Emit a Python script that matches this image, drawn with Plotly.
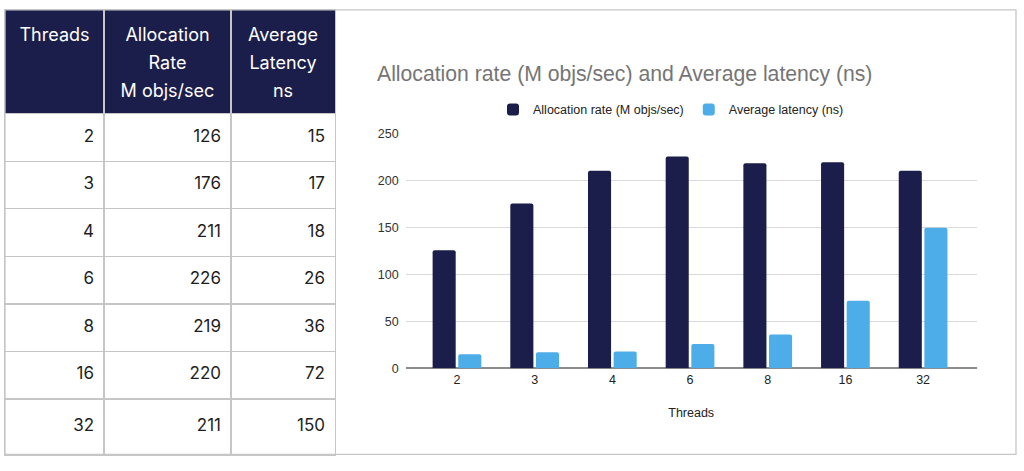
import plotly.graph_objects as go

W, H = 1024, 471

# ---------------- data ----------------
threads = ["2", "3", "4", "6", "8", "16", "32"]
alloc_rate = [126, 176, 211, 226, 219, 220, 211]
avg_latency = [15, 17, 18, 26, 36, 72, 150]

header_labels = ["Threads", "Allocation<br>Rate<br>M objs/sec", "Average<br>Latency<br>ns"]
series_names = ["Allocation rate (M objs/sec)", "Average latency (ns)"]
chart_title = "Allocation rate (M objs/sec) and Average latency (ns)"
x_title = "Threads"
y_ticks = [0, 50, 100, 150, 200, 250]

# ---------------- styles / layout geometry ----------------
NAVY = "#1b1e4b"
LIGHT = "#4cade9"
GRID = "#dadada"
BORDER = "#c6c6c6"
TABLE_FONT = "Inter, Open Sans, sans-serif"
CHART_FONT = "Liberation Sans, Arial, sans-serif"

col_widths = [99, 127, 104]          # table column widths (px)
header_height = 107
body_heights = [49, 49, 49, 49, 49, 49, 57]
header_line_first = 27
header_line_pitch = 29
cell_pad = 10


def px_x(v):
    return v / W


def px_y(v):
    return (H - v) / H


# derived table geometry
col_edges = [0]
for w in col_widths:
    col_edges.append(col_edges[-1] + w)
row_edges = [header_height]
for h in body_heights:
    row_edges.append(row_edges[-1] + h)
row_centers = [(row_edges[i] + row_edges[i + 1]) / 2 for i in range(len(body_heights))]
table_w = col_edges[-1]
table_h = row_edges[-1]

fig = go.Figure()

# ---------------- table drawn on its own axes ----------------
columns = [threads, [str(v) for v in alloc_rate], [str(v) for v in avg_latency]]
for ci, col in enumerate(columns):
    fig.add_trace(go.Scatter(
        x=[col_edges[ci + 1] - cell_pad] * len(col), y=row_centers,
        mode="text", text=col, textposition="middle left",
        textfont=dict(family=TABLE_FONT, size=17, color="#1e1e1e"),
        xaxis="x2", yaxis="y2", showlegend=False, hoverinfo="skip",
    ))

for ci, label in enumerate(header_labels):
    lines = label.split("<br>")
    cx = (col_edges[ci] + col_edges[ci + 1]) / 2
    fig.add_trace(go.Scatter(
        x=[cx] * len(lines),
        y=[header_line_first + i * header_line_pitch for i in range(len(lines))],
        mode="text", text=lines, textposition="middle center",
        textfont=dict(family=TABLE_FONT, size=18, color="white"),
        xaxis="x2", yaxis="y2", showlegend=False, hoverinfo="skip",
    ))

# ---------------- bar chart ----------------
fig.add_trace(go.Bar(
    x=threads, y=alloc_rate, name=series_names[0],
    marker=dict(color=NAVY, cornerradius=2, line=dict(width=0)),
))
fig.add_trace(go.Bar(
    x=threads, y=avg_latency, name=series_names[1],
    marker=dict(color=LIGHT, cornerradius=2, line=dict(width=0)),
))

fig.update_layout(
    width=W, height=H,
    margin=dict(l=0, r=0, t=0, b=0),
    paper_bgcolor="white",
    plot_bgcolor="white",
    barmode="group",
    bargap=0.34,
    bargroupgap=0.1,
    font=dict(family=CHART_FONT, size=12.5, color="#333"),
    title=dict(
        text=chart_title,
        x=px_x(377), xanchor="left",
        y=px_y(74), yanchor="middle",
        font=dict(family=CHART_FONT, size=21.2, color="#757575"),
    ),
    legend=dict(
        orientation="h",
        x=px_x(493), xanchor="left",
        y=px_y(106), yanchor="middle",
        font=dict(family=CHART_FONT, size=12.5, color="#222"),
        bgcolor="rgba(0,0,0,0)",
        traceorder="normal",
    ),
    xaxis=dict(
        domain=[px_x(405.7), px_x(976.7)],
        anchor="y",
        type="category",
        range=[-0.66, 6.69],
        showgrid=False,
        showline=False,
        ticks="",
        ticklabelstandoff=2,
        tickfont=dict(size=12.5, color="#222"),
        title=dict(text=x_title, font=dict(size=12.5, color="#222"), standoff=22),
    ),
    yaxis=dict(
        domain=[px_y(372.3), px_y(131)],
        anchor="x",
        range=[0, 250],
        tickvals=y_ticks,
        showgrid=True,
        gridcolor=GRID,
        gridwidth=1,
        zeroline=True,
        zerolinecolor="#8c8c8c",
        zerolinewidth=1.5,
        ticks="",
        ticklabelstandoff=6,
        tickfont=dict(size=12.5, color="#333"),
    ),
    xaxis2=dict(
        domain=[px_x(5), px_x(5 + table_w)],
        anchor="y2",
        range=[0, table_w],
        tickvals=col_edges[1:-1],
        showticklabels=False,
        showgrid=True, gridcolor=BORDER, gridwidth=1.3,
        zeroline=False,
        showline=True, mirror=True, linecolor=BORDER, linewidth=1.3,
        fixedrange=True,
    ),
    yaxis2=dict(
        domain=[px_y(3 + table_h), px_y(3)],
        anchor="x2",
        range=[table_h, 0],
        tickvals=row_edges[:-1],
        showticklabels=False,
        showgrid=True, gridcolor=BORDER, gridwidth=1.3,
        zeroline=False,
        showline=True, mirror=True, linecolor=BORDER, linewidth=1.3,
        fixedrange=True,
    ),
    shapes=[
        dict(type="rect", xref="x2", yref="y2",
             x0=0, x1=table_w, y0=0, y1=header_height,
             fillcolor=NAVY, line=dict(width=0), layer="below"),
        dict(type="rect", xref="paper", yref="paper",
             x0=px_x(5), x1=px_x(1016), y0=px_y(461), y1=px_y(3),
             line=dict(color=BORDER, width=1.3), layer="above"),
    ],
)

fig.write_html(
    "out.html",
    config={"displayModeBar": False, "staticPlot": True},
    post_script=(
        "document.documentElement.style.margin='0';"
        "document.body.style.margin='0';"
        "document.documentElement.style.overflow='hidden';"
        "document.body.style.overflow='hidden';"
        "var gd=document.getElementById('{plot_id}');"
        "gd.style.position='fixed';gd.style.left='0';gd.style.top='0';"
    ),
)
